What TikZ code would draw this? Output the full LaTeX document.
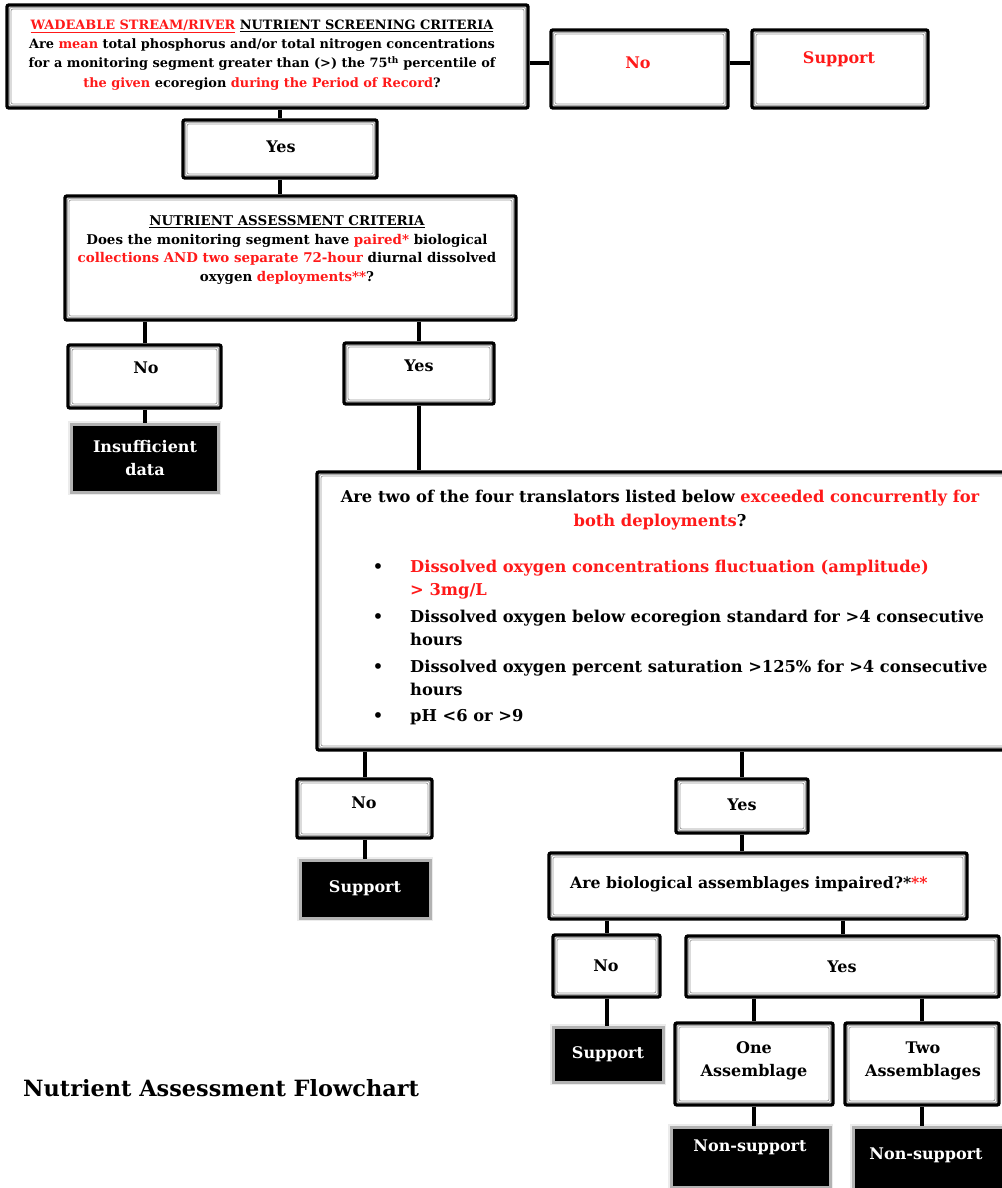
\documentclass[tikz,border=0pt]{standalone}
\usepackage{fontspec}
\setmainfont{DejaVu Serif}
\usetikzlibrary{fit}
\definecolor{rd}{RGB}{255,25,25}
\begin{document}
\begin{tikzpicture}[x=1pt,y=-1pt,
  frame/.style={draw=black, line width=3.4pt, fill=white, rounded corners=2pt, inner sep=0pt,
    path picture={
      \draw[gray!65, line width=1.2pt] ([shift={(2.3pt,2.3pt)}]path picture bounding box.south west) rectangle ([shift={(-2.3pt,-2.3pt)}]path picture bounding box.north east);
      \draw[gray!80, line width=0.7pt] ([shift={(4pt,4pt)}]path picture bounding box.south west) rectangle ([shift={(-4pt,-4pt)}]path picture bounding box.north east);
    }},
  term/.style={draw=gray!60, line width=3pt, fill=black, inner sep=0pt,
    preaction={draw=gray!15, line width=6pt}},
  conn/.style={line width=4pt, black},
  lbl/.style={font=\fontsize{16}{23}\selectfont\bfseries, inner sep=0pt, align=center},
  wlbl/.style={lbl, text=white},
  qtext/.style={font=\fontsize{12.9}{19.2}\selectfont\bfseries, align=center, inner sep=0pt},
  qtextb/.style={font=\fontsize{13.4}{18.5}\selectfont\bfseries, align=center, inner sep=0pt},
  big/.style={font=\fontsize{16.3}{24}\selectfont\bfseries, inner sep=0pt},
]
\useasboundingbox (0,0) rectangle (1001,1188);
\fill[white] (0,0) rectangle (1001,1188);

% boxes
\node[frame, fit={(7,5) (528,108)}] (box1) {};
\node[frame, fit={(551,30) (728,108)}] (noT) {};
\node[frame, fit={(752,30) (928,108)}] (supT) {};
\node[frame, fit={(183,120) (377,178)}] (yes1) {};
\node[frame, fit={(65,196) (516,320)}] (box2) {};
\node[frame, fit={(68,345) (221,408)}] (no2) {};
\node[frame, fit={(344,343) (494,404)}] (yes2) {};
\node[term, fit={(71,424) (218,492)}] (insuf) {};
\node[frame, fit={(317,472) (1012,750)}] (box3) {};
\node[frame, fit={(297,779) (432,838)}] (no3) {};
\node[term, fit={(300,860) (430,918)}] (sup3) {};
\node[frame, fit={(676,779) (808,833)}] (yes3) {};
\node[frame, fit={(549,853) (967,919)}] (box4) {};
\node[frame, fit={(553,935) (660,997)}] (no4) {};
\node[frame, fit={(686,936) (999,997)}] (yes4) {};
\node[term, fit={(553,1027) (663,1082)}] (sup4) {};
\node[frame, fit={(675,1023) (833,1105)}] (one) {};
\node[frame, fit={(845,1023) (999,1105)}] (two) {};
\node[term, fit={(671,1127) (830,1187)}] (ns1) {};
\node[term, fit={(853,1127) (1012,1197)}] (ns2) {};

% connectors
\coordinate (c1) at ([yshift=6pt]noT.west);
\draw[conn] (c1 -| box1.east) -- (c1);
\draw[conn] (c1 -| noT.east) -- (c1 -| supT.west);
\draw[conn] (yes1.north |- box1.south) -- (yes1.north);
\draw[conn] (yes1.south) -- (yes1.south |- box2.north);
\draw[conn] (no2.north |- box2.south) -- (no2.north);
\draw[conn] (no2.south) -- (no2.south |- insuf.north);
\draw[conn] (yes2.north |- box2.south) -- (yes2.north);
\draw[conn] (yes2.south) -- (yes2.south |- box3.north);
\draw[conn] (no3.north |- box3.south) -- (no3.north);
\draw[conn] (no3.south) -- (no3.south |- sup3.north);
\draw[conn] (yes3.north |- box3.south) -- (yes3.north);
\draw[conn] (yes3.south) -- (yes3.south |- box4.north);
\draw[conn] (no4.north |- box4.south) -- (no4.north);
\draw[conn] (no4.south) -- (no4.south |- sup4.north);
\draw[conn] (yes4.north |- box4.south) -- (yes4.north);
\draw[conn] (one.north |- yes4.south) -- (one.north);
\draw[conn] (two.north |- yes4.south) -- (two.north);
\draw[conn] (one.south) -- (one.south |- ns1.north);
\draw[conn] (two.south) -- (two.south |- ns2.north);

% texts
\node[qtext] (t1) at (262,55) {\textcolor{rd}{\underline{WADEABLE STREAM/RIVER}} \underline{NUTRIENT SCREENING CRITERIA}\\
Are \textcolor{rd}{mean} total phosphorus and/or total nitrogen concentrations\\
for a monitoring segment greater than (>) the 75\textsuperscript{th} percentile of\\
\textcolor{rd}{the given} ecoregion \textcolor{rd}{during the Period of Record}?};
\node[lbl, text=rd] (tnoT) at (638,63) {No};
\node[lbl, text=rd] (tsupT) at (839,59) {Support};
\node[lbl] (tyes1) at (281,147) {Yes};
\node[qtextb] (t2) at (287,250) {\underline{NUTRIENT ASSESSMENT CRITERIA}\\
Does the monitoring segment have \textcolor{rd}{paired*} biological\\
\textcolor{rd}{collections AND two separate 72-hour} diurnal dissolved\\
oxygen \textcolor{rd}{deployments**}?};
\node[lbl] (tno2) at (146,368) {No};
\node[lbl] (tyes2) at (419,366) {Yes};
\node[wlbl] (tinsuf) at (145,458) {Insufficient\\data};
\node[big, align=center] (t3) at (660,510) {Are two of the four translators listed below \textcolor{rd}{exceeded concurrently for}\\\textcolor{rd}{both deployments}?};
\node[big, anchor=base] (bu1) at (378,572) {\textbullet};
\node[big, anchor=base west, text=rd] (l1a) at (410,572) {Dissolved oxygen concentrations fluctuation (amplitude)};
\node[big, anchor=base west, text=rd] (l1b) at (410,595) {> 3mg/L};
\node[big, anchor=base] (bu2) at (378,622) {\textbullet};
\node[big, anchor=base west] (l2a) at (410,622) {Dissolved oxygen below ecoregion standard for >4 consecutive};
\node[big, anchor=base west] (l2b) at (410,645) {hours};
\node[big, anchor=base] (bu3) at (378,672) {\textbullet};
\node[big, anchor=base west] (l3a) at (410,672) {Dissolved oxygen percent saturation >125\% for >4 consecutive};
\node[big, anchor=base west] (l3b) at (410,695) {hours};
\node[big, anchor=base] (bu4) at (378,721) {\textbullet};
\node[big, anchor=base west] (l4a) at (410,721) {pH <6 or >9};
\node[lbl] (tno3) at (364,803) {No};
\node[wlbl] (tsup3) at (365,888) {Support};
\node[lbl] (tyes3) at (742,805) {Yes};
\node[font=\fontsize{15.7}{24}\selectfont\bfseries, inner sep=0pt, anchor=west] (t4) at (570,884) {Are biological assemblages impaired?*\textcolor{rd}{**}};
\node[lbl] (tno4) at (606,966) {No};
\node[lbl] (tyes4) at (842,967) {Yes};
\node[wlbl] (tsup4) at (608,1054) {Support};
\node[lbl] (tone) at (754,1061) {One\\Assemblage};
\node[lbl] (ttwo) at (923,1061) {Two\\Assemblages};
\node[wlbl] (tns1) at (750,1147) {Non-support};
\node[wlbl] (tns2) at (926,1155) {Non-support};
\node[font=\fontsize{22.4}{26}\selectfont\bfseries, anchor=west, inner sep=0pt] (foot) at (23,1088) {Nutrient Assessment Flowchart};
\end{tikzpicture}
\end{document}
